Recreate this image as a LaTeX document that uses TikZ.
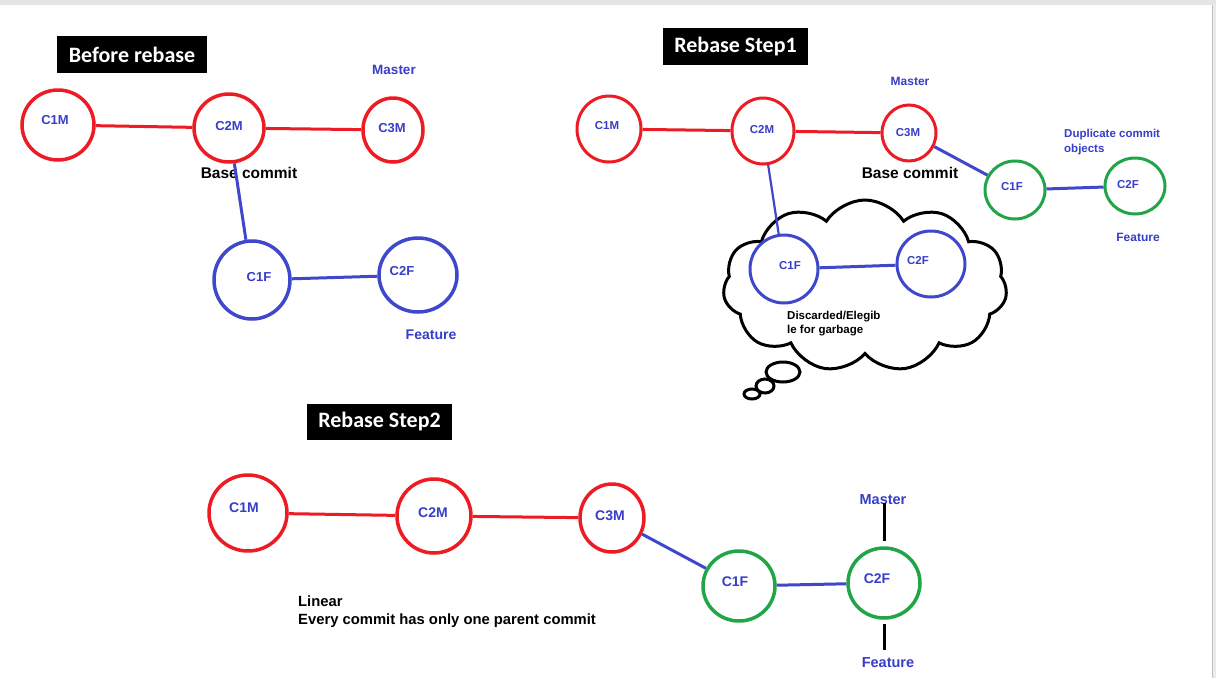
\documentclass[tikz,border=0pt]{standalone}
\usepackage{fontspec}
\setmainfont{Liberation Sans}
\newfontfamily\titlefont{Carlito}
\usetikzlibrary{shapes.geometric,shapes.symbols}
\definecolor{pred}{RGB}{237,28,36}
\definecolor{pblue}{RGB}{63,72,204}
\definecolor{pgreen}{RGB}{34,165,72}
\definecolor{ptext}{RGB}{55,62,200}
\begin{document}
\begin{tikzpicture}[x=1pt,y=-1pt,
  commit/.style={ellipse, draw, line width=3.5pt, inner sep=0pt},
  redc/.style={commit, draw=pred},
  bluec/.style={commit, draw=pblue},
  greenc/.style={commit, draw=pgreen},
  title/.style={fill=black, text=white, inner sep=0pt, minimum width=146pt, minimum height=37pt,
     font=\titlefont\bfseries\fontsize{22}{26}\selectfont},
  ctext/.style={text=ptext, inner sep=0pt, font=\bfseries\fontsize{#1}{#1}\selectfont},
  ctext/.default=13,
  btext/.style={text=black, inner sep=0pt, font=\bfseries\fontsize{#1}{#1}\selectfont},
  redline/.style={draw=pred, line width=3pt},
  blueline/.style={draw=pblue, line width=3pt},
  blkline/.style={draw=black, line width=3pt},
]
\useasboundingbox (0,0) rectangle (1216,678);
\fill[white] (0,0) rectangle (1216,678);
\fill[black!10] (0,0) rectangle (1216,5);
\fill[black!8] (1212,5) rectangle (1216,678);
\draw[black!25, line width=1pt] (1212,5) -- (1212,678);

% ---------------- Before rebase ----------------
\node[title, minimum width=150pt] (t1) at (132,54.5) {Before rebase};
\node[redc, minimum width=72pt, minimum height=70pt] (b1) at (58,125) {};
\node[redc, minimum width=70pt, minimum height=68pt] (b2) at (229,128) {};
\node[redc, minimum width=60pt, minimum height=64pt] (b3) at (393,130) {};
\node[bluec, minimum width=76pt, minimum height=78pt] (b4) at (252,280) {};
\node[bluec, minimum width=78pt, minimum height=74pt] (b5) at (418,275) {};
\node[ctext] (b1t) at (55,120) {C1M};
\node[ctext] (b2t) at (229,126) {C2M};
\node[ctext] (b3t) at (392,128) {C3M};
\node[ctext] (b4t) at (259,277) {C1F};
\node[ctext] (b5t) at (402,271) {C2F};
\node[ctext=13.5] (bmaster) at (394,70) {Master};
\node[btext=15.5] (bbase) at (249,173) {Base commit};
\node[ctext=14] (bfeature) at (431,335) {Feature};
\draw[redline] (b1) -- (b2);
\draw[redline] (b2) -- (b3);
\draw[blueline] (b2) -- (b4);
\draw[blueline] (b4) -- (b5);

% ---------------- Rebase Step1 ----------------
\node[title, minimum width=145pt] (t2) at (735.5,46.5) {Rebase Step1};
\node[cloud, draw=black, line width=3pt, cloud puffs=11, cloud puff arc=115, cloud ignores aspect,
      minimum width=284pt, minimum height=172pt, inner sep=0pt] (cl) at (865,286) {};
\node[ellipse, draw=black, line width=3pt, minimum width=34pt, minimum height=20pt, inner sep=0pt] (bub1) at (783,372) {};
\node[ellipse, draw=black, line width=3pt, minimum width=18pt, minimum height=14pt, inner sep=0pt] (bub2) at (765,386) {};
\node[ellipse, draw=black, line width=3pt, minimum width=16pt, minimum height=10pt, inner sep=0pt] (bub3) at (752,394) {};

\node[redc, line width=3pt, minimum width=64pt, minimum height=66pt] (s1) at (609,129) {};
\node[redc, line width=3pt, minimum width=62pt, minimum height=66pt] (s2) at (763,131) {};
\node[redc, line width=3pt, minimum width=54pt, minimum height=56pt] (s3) at (909,133) {};
\node[greenc, line width=3pt, minimum width=60pt, minimum height=58pt] (s4) at (1015,190) {};
\node[greenc, line width=3pt, minimum width=60pt, minimum height=56pt] (s5) at (1135,186) {};
\node[bluec, line width=3pt, minimum width=68pt, minimum height=68pt] (d1) at (784,269) {};
\node[bluec, line width=3pt, minimum width=68pt, minimum height=66pt] (d2) at (931,264) {};
\node[ctext=11.5] (s1t) at (607,126) {C1M};
\node[ctext=11.5] (s2t) at (762,130) {C2M};
\node[ctext=11.5] (s3t) at (908,133) {C3M};
\node[ctext=11.5] (s4t) at (1012,187) {C1F};
\node[ctext=11.5] (s5t) at (1128,185) {C2F};
\node[ctext=11.5] (d1t) at (790,266) {C1F};
\node[ctext=11.5] (d2t) at (918,261) {C2F};
\node[ctext=12] (smaster) at (910,81) {Master};
\node[btext=15.5] (sbase) at (910,173) {Base commit};
\node[ctext=11.5, anchor=west, align=left, font=\bfseries\fontsize{11.5}{15}\selectfont] (sdup) at (1064,142.5) {Duplicate commit\\objects};
\node[ctext=12] (sfeature) at (1138,237) {Feature};
\node[btext=11.5, anchor=west, align=left, font=\bfseries\fontsize{11.5}{14}\selectfont] (sdisc) at (787,324) {Discarded/Elegib\\le for garbage};
\draw[redline] (s1) -- (s2);
\draw[redline] (s2) -- (s3);
\draw[blueline] (s3) -- (s4);
\draw[blueline] (s4) -- (s5);
\draw[blueline, line width=2.2pt] (s2) -- (d1);
\draw[blueline] (d1) -- (d2);

% ---------------- Rebase Step2 ----------------
\node[title, minimum width=145pt, minimum height=36pt] (t3) at (379.5,422) {Rebase Step2};
\node[redc, minimum width=78pt, minimum height=76pt] (r1) at (248,513) {};
\node[redc, minimum width=74pt, minimum height=74pt] (r2) at (434,516) {};
\node[redc, minimum width=64pt, minimum height=68pt] (r3) at (612,518) {};
\node[greenc, minimum width=72pt, minimum height=70pt] (r4) at (739,586) {};
\node[greenc, minimum width=72pt, minimum height=70pt] (r5) at (884,583) {};
\node[ctext=14] (r1t) at (244,508) {C1M};
\node[ctext=14] (r2t) at (433,513) {C2M};
\node[ctext=14] (r3t) at (610,516) {C3M};
\node[ctext=14] (r4t) at (735,582) {C1F};
\node[ctext=14] (r5t) at (877,579) {C2F};
\node[ctext=14.5] (rmaster) at (883,500) {Master};
\node[ctext=14.5] (rfeature) at (888,663) {Feature};
\node[btext=14.8, anchor=west, align=left, font=\bfseries\fontsize{14.8}{18}\selectfont] (rlin) at (298,612) {Linear\\Every commit has only one parent commit};
\draw[redline] (r1) -- (r2);
\draw[redline] (r2) -- (r3);
\draw[blueline] (r3) -- (r4);
\draw[blueline] (r4) -- (r5);
\draw[blkline, shorten <=-2pt, shorten >=5pt] (rmaster.south -| r5) -- (r5.north);
\draw[blkline, shorten <=4pt, shorten >=8pt] (r5.south) -- (rfeature.north -| r5);
\end{tikzpicture}
\end{document}
